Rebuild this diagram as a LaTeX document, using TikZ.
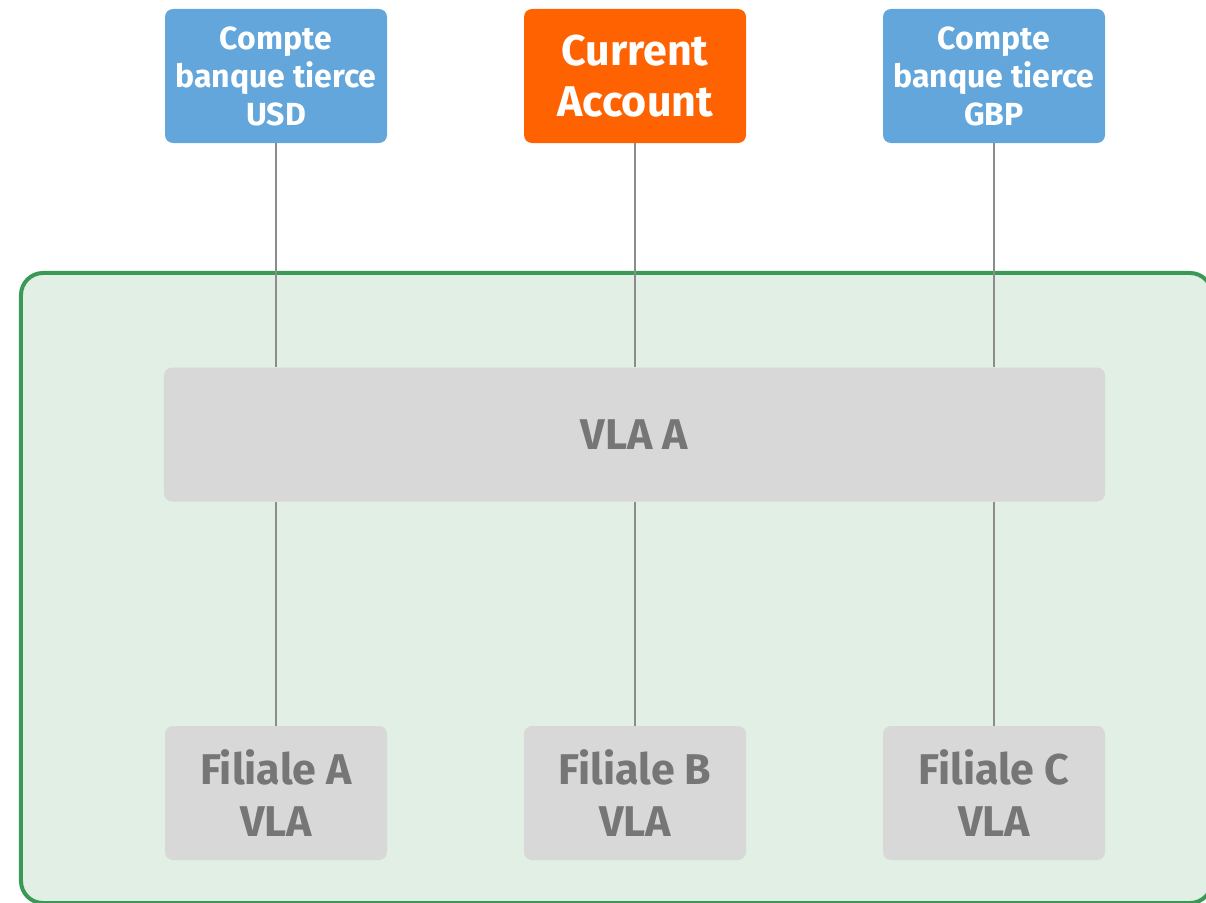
\documentclass[tikz,border=0pt]{standalone}
\usepackage{fontspec}
\setmainfont{Fira Sans}
\definecolor{ingblue}{HTML}{62A6DB}
\definecolor{ingorange}{HTML}{FF6200}
\definecolor{boxgrey}{HTML}{D8D8D8}
\definecolor{txtgrey}{HTML}{767676}
\definecolor{grpline}{HTML}{3A9A55}
\definecolor{grpfill}{HTML}{E1EFE5}
\definecolor{conn}{HTML}{8C8C8C}
\tikzset{
  acct/.style={rectangle, rounded corners=8bp, fill=ingblue, text=white, font=\bfseries\fontsize{32bp}{38bp}\selectfont, align=center, minimum width=222bp, minimum height=134bp, inner sep=0pt},
  main/.style={acct, fill=ingorange, font=\bfseries\fontsize{43bp}{51bp}\selectfont},
  vlabox/.style={rectangle, rounded corners=8bp, fill=boxgrey, text=txtgrey, font=\bfseries\fontsize{43bp}{52bp}\selectfont, align=center, minimum height=134bp, inner sep=0pt},
  grp/.style={rectangle, rounded corners=22bp, draw=grpline, line width=4bp, fill=grpfill, inner sep=0pt},
  link/.style={draw=conn, line width=1.5bp}
}
\begin{document}
\begin{tikzpicture}[x=1bp, y=-1bp]
\useasboundingbox (0,0) rectangle (1206,903);
\clip (0,0) rectangle (1206,903);
\node[grp, minimum width=1191bp, minimum height=630bp] (group) at (616.5,588) {};
\node[acct] (usd) at (276,76) {Compte\\banque tierce\\USD};
\node[main] (cur) at (635,76) {Current\\Account};
\node[acct] (gbp) at (994,76) {Compte\\banque tierce\\GBP};
\node[vlabox, minimum width=941bp] (vla) at (634.5,434.5) {VLA A};
\node[vlabox, minimum width=222bp] (fa) at (276,793) {Filiale A\\VLA};
\node[vlabox, minimum width=222bp] (fb) at (635,793) {Filiale B\\VLA};
\node[vlabox, minimum width=222bp] (fc) at (994,793) {Filiale C\\VLA};
\path[link] (usd.south) -- (usd.south |- vla.north);
\path[link] (cur.south) -- (cur.south |- vla.north);
\path[link] (gbp.south) -- (gbp.south |- vla.north);
\path[link] (fa.north |- vla.south) -- (fa.north);
\path[link] (fb.north |- vla.south) -- (fb.north);
\path[link] (fc.north |- vla.south) -- (fc.north);
\end{tikzpicture}
\end{document}
